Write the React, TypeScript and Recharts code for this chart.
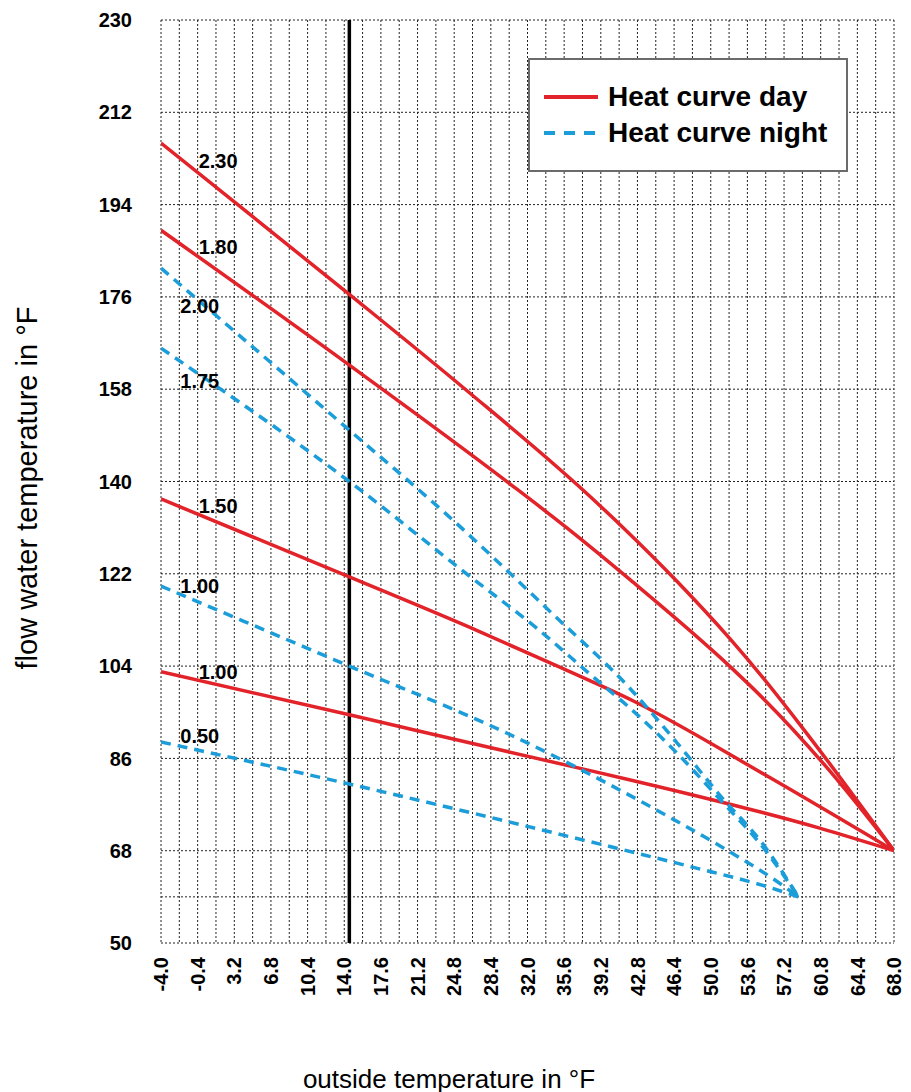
import React from "react";
import {
  LineChart,
  Line,
  XAxis,
  YAxis,
  CartesianGrid,
  ReferenceLine,
  ReferenceDot,
  Legend,
} from "recharts";

type Pt = { t: number; v: number };

// outside temperature grid (every 1.8 °F) and the labelled ones (every 3.6 °F)
const xGridTicks = [
  -4.0, -2.2, -0.4, 1.4, 3.2, 5.0, 6.8, 8.6, 10.4, 12.2, 14.0, 15.8, 17.6, 19.4, 21.2, 23.0,
  24.8, 26.6, 28.4, 30.2, 32.0, 33.8, 35.6, 37.4, 39.2, 41.0, 42.8, 44.6, 46.4, 48.2, 50.0,
  51.8, 53.6, 55.4, 57.2, 59.0, 60.8, 62.6, 64.4, 66.2, 68.0,
];
const xLabelTicks = [
  -4.0, -0.4, 3.2, 6.8, 10.4, 14.0, 17.6, 21.2, 24.8, 28.4, 32.0, 35.6, 39.2, 42.8, 46.4, 50.0,
  53.6, 57.2, 60.8, 64.4, 68.0,
];
const yGridTicks = [50, 59, 68, 86, 104, 122, 140, 158, 176, 194, 212, 230];
const yLabelTicks = [50, 68, 86, 104, 122, 140, 158, 176, 194, 212, 230];

// heat curves, day (solid)
const day230: Pt[] = [
  { t: -4, v: 206 }, { t: 14.5, v: 176.5 }, { t: 26, v: 157.8 }, { t: 36.8, v: 139.5 },
  { t: 41.4, v: 131 }, { t: 46.7, v: 120.5 }, { t: 51.9, v: 109.3 }, { t: 55.1, v: 101.8 },
  { t: 58.8, v: 92.5 }, { t: 68, v: 68 },
];
const day180: Pt[] = [
  { t: -4, v: 189 }, { t: 14.5, v: 162.7 }, { t: 30.3, v: 139.5 }, { t: 35.9, v: 130.9 },
  { t: 42.1, v: 120.8 }, { t: 51.9, v: 103.9 }, { t: 55.2, v: 97.6 }, { t: 61.5, v: 84 },
  { t: 68, v: 68 },
];
const day150: Pt[] = [
  { t: -4, v: 136.6 }, { t: 14.5, v: 121.4 }, { t: 26.4, v: 111.5 }, { t: 35.5, v: 103.5 },
  { t: 42.4, v: 97.2 }, { t: 55.5, v: 82.6 }, { t: 68, v: 68 },
];
const day100: Pt[] = [
  { t: -4, v: 102.9 }, { t: 14.5, v: 94.5 }, { t: 26.4, v: 89.0 }, { t: 36.2, v: 84.5 },
  { t: 42.1, v: 81.8 }, { t: 60.7, v: 72.4 }, { t: 68, v: 68 },
];

// heat curves, night (dashed)
const night200: Pt[] = [
  { t: -4, v: 181.6 }, { t: 14.5, v: 150 }, { t: 24.1, v: 133.5 }, { t: 34.4, v: 114.3 },
  { t: 41.9, v: 100.0 }, { t: 46.7, v: 89.0 }, { t: 50.9, v: 78.8 }, { t: 55.2, v: 69.1 },
  { t: 58.6, v: 59 },
];
const night175: Pt[] = [
  { t: -4, v: 166 }, { t: 14.5, v: 140 }, { t: 26.4, v: 121.4 }, { t: 32.9, v: 111.4 },
  { t: 38.8, v: 101.3 }, { t: 41.9, v: 96.1 }, { t: 46.7, v: 87 }, { t: 50.9, v: 78 },
  { t: 55.2, v: 68.5 }, { t: 58.6, v: 59 },
];
const night100: Pt[] = [
  { t: -4, v: 119.6 }, { t: 14.5, v: 104 }, { t: 30.0, v: 90.9 }, { t: 41.1, v: 79.8 },
  { t: 44.7, v: 75.9 }, { t: 51.6, v: 68.1 }, { t: 56.8, v: 61.6 }, { t: 58.6, v: 59 },
];
const night050: Pt[] = [
  { t: -4, v: 89.2 }, { t: 14.5, v: 81 }, { t: 36.2, v: 70.7 }, { t: 48.0, v: 64.9 },
  { t: 55.5, v: 61.0 }, { t: 58.6, v: 59 },
];

const curveLabels = [
  { text: "2.30", t: -0.4, v: 202.5 },
  { text: "1.80", t: -0.4, v: 185.7 },
  { text: "2.00", t: -2.2, v: 174.2 },
  { text: "1.75", t: -2.2, v: 159.6 },
  { text: "1.50", t: -0.4, v: 135.2 },
  { text: "1.00", t: -2.2, v: 119.6 },
  { text: "1.00", t: -0.4, v: 102.8 },
  { text: "0.50", t: -2.2, v: 90.4 },
];

const designTemp = 14.5;

const FONT = '"Liberation Sans", Arial, Helvetica, sans-serif';
const RED = "#e2232a";
const BLUE = "#1a9dd9";

const daySeries = [
  { key: "d230", data: day230 },
  { key: "d180", data: day180 },
  { key: "d150", data: day150 },
  { key: "d100", data: day100 },
];
const nightSeries = [
  { key: "n200", data: night200 },
  { key: "n175", data: night175 },
  { key: "n100", data: night100 },
  { key: "n050", data: night050 },
];

const XTick = (props: any) => {
  const { x, y, payload } = props;
  if (!xLabelTicks.includes(payload.value)) return <g />;
  return (
    <text
      x={x}
      y={y}
      transform={`rotate(-90 ${x} ${y})`}
      textAnchor="end"
      dy="0.36em"
      fontSize={20}
      fontWeight={700}
      fill="#000"
      fontFamily={FONT}
    >
      {Number(payload.value).toFixed(1)}
    </text>
  );
};

const LegendBox = () => (
  <div
    style={{
      boxSizing: "border-box",
      width: 320,
      height: 114,
      border: "2px solid #6b6b6b",
      background: "#fff",
      paddingTop: 19,
      fontFamily: FONT,
    }}
  >
    {[
      { label: "Heat curve day", color: RED, dash: undefined },
      { label: "Heat curve night", color: BLUE, dash: "11 9" },
    ].map((it) => (
      <div key={it.label} style={{ display: "flex", alignItems: "center", height: 36 }}>
        <svg width={54} height={8} style={{ marginLeft: 14 }}>
          <line x1={0} y1={4} x2={54} y2={4} stroke={it.color} strokeWidth={4} strokeDasharray={it.dash} />
        </svg>
        <span style={{ marginLeft: 10, fontSize: 28, fontWeight: 700, color: "#000", lineHeight: "36px" }}>
          {it.label}
        </span>
      </div>
    ))}
  </div>
);

export default function App() {
  return (
    <div style={{ position: "relative", width: 903, height: 1084, fontFamily: FONT }}>
      <LineChart width={903} height={1084} margin={{ top: 12, right: 17, left: 93, bottom: 89 }}>
        <CartesianGrid stroke="#222" strokeDasharray="2 2" strokeWidth={1} />
        <XAxis
          type="number"
          dataKey="t"
          domain={[-4, 68]}
          ticks={xGridTicks}
          interval={0}
          allowDataOverflow
          axisLine={false}
          tickLine={false}
          tickSize={0}
          tickMargin={14}
          height={60}
          tick={<XTick />}
        />
        <YAxis
          type="number"
          dataKey="v"
          domain={[50, 230]}
          ticks={yGridTicks}
          interval={0}
          allowDataOverflow
          axisLine={false}
          tickLine={false}
          tickSize={0}
          tickMargin={29}
          width={60}
          tickFormatter={(v: number) => (yLabelTicks.includes(v) ? String(v) : "")}
          tick={{ fill: "#000", fontSize: 20, fontWeight: 700, fontFamily: FONT }}
        />
        <ReferenceLine x={designTemp} stroke="#000" strokeWidth={3.5} />
        {daySeries.map((s) => (
          <Line
            key={s.key}
            data={s.data}
            dataKey="v"
            type="monotone"
            stroke={RED}
            strokeWidth={3.5}
            dot={false}
            activeDot={false}
            isAnimationActive={false}
          />
        ))}
        {nightSeries.map((s) => (
          <Line
            key={s.key}
            data={s.data}
            dataKey="v"
            type="monotone"
            stroke={BLUE}
            strokeWidth={3.5}
            strokeDasharray="10 7"
            dot={false}
            activeDot={false}
            isAnimationActive={false}
          />
        ))}
        {curveLabels.map((l, i) => (
          <ReferenceDot
            key={i}
            x={l.t}
            y={l.v}
            r={0}
            fill="none"
            stroke="none"
            label={{
              value: l.text,
              position: "right",
              offset: 1,
              fill: "#000",
              fontSize: 20,
              fontWeight: 700,
              fontFamily: FONT,
            }}
          />
        ))}
        <Legend
          layout="vertical"
          align="center"
          verticalAlign="middle"
          content={<LegendBox />}
          wrapperStyle={{ left: 520, top: 50, width: 320, height: 114 }}
        />
      </LineChart>
      <div
        style={{
          position: "absolute",
          left: 19,
          top: 480,
          transform: "translate(-50%, -50%) rotate(-90deg)",
          whiteSpace: "nowrap",
          fontSize: 29,
          lineHeight: 1,
          color: "#000",
        }}
      >
        flow water temperature in °F
      </div>
      <div
        style={{
          position: "absolute",
          left: 441,
          top: 1071,
          transform: "translate(-50%, -50%)",
          whiteSpace: "nowrap",
          fontSize: 26,
          lineHeight: 1,
          color: "#000",
        }}
      >
        outside temperature in °F
      </div>
    </div>
  );
}
